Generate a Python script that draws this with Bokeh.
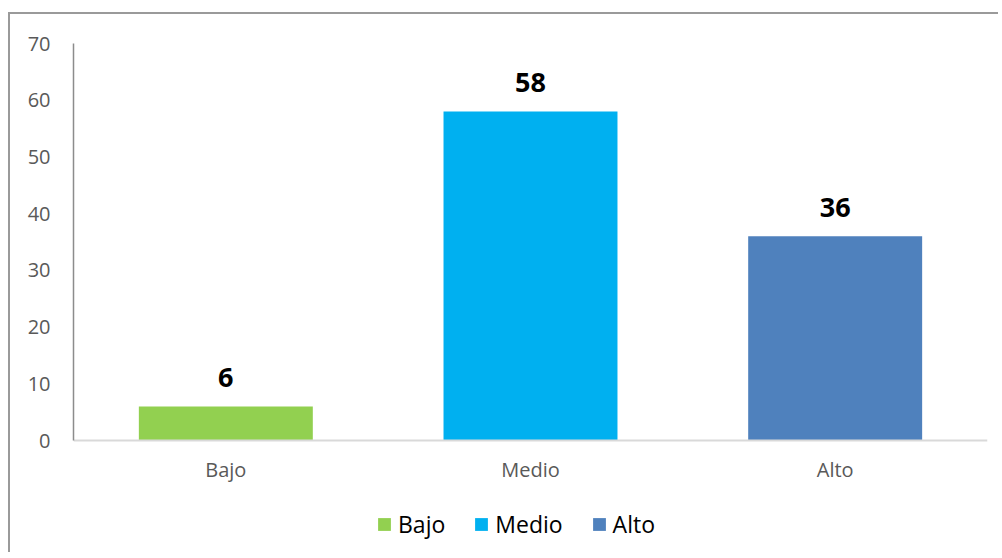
from bokeh.plotting import figure
from bokeh.models import ColumnDataSource, FactorRange, Range1d, FixedTicker, Legend, LegendItem
from bokeh.core.properties import value
from bokeh.embed import file_html
from bokeh.resources import INLINE

categories = ["Bajo", "Medio", "Alto"]
values = [6, 58, 36]
colors = ["#92D050", "#00B0F0", "#4F81BD"]
y_ticks = [0, 10, 20, 30, 40, 50, 60, 70]
y_max = 70

# layout geometry (pixels)
W, H = 990, 540
top_px, bottom_px = 29, 10
axis_px = 397  # pixel height of the 0..70 span
frame_h = H - top_px - bottom_px
y_start = y_max - y_max * frame_h / axis_px

source = ColumnDataSource(dict(
    cat=categories,
    val=values,
    color=colors,
    label=[str(v) for v in values],
))

p = figure(
    width=W, height=H,
    x_range=FactorRange(*categories, range_padding=0),
    y_range=Range1d(y_start, y_max),
    output_backend="svg", toolbar_location=None,
    min_border_left=63, min_border_right=13, min_border_top=top_px, min_border_bottom=bottom_px,
)
p.styles = {"border-left": "2px solid #9a9a9a", "border-top": "2px solid #9a9a9a",
            "margin-top": "12px", "margin-left": "8px"}

p.outline_line_color = None
p.grid.visible = False
p.background_fill_color = "white"
p.border_fill_color = "white"

r = p.vbar(x="cat", top="val", width=0.571, fill_color="color", line_color=None, source=source)

p.text(x="cat", y="val", text="label", source=source,
       text_align="center", text_baseline="alphabetic", y_offset=-29,
       text_font=value("Open Sans"), text_font_style="bold", text_font_size="27px",
       text_color="black")

# axes
xa = p.xaxis[0]
xa.fixed_location = 0
xa.axis_line_color = "#d9d9d9"
xa.axis_line_width = 2
xa.major_tick_line_color = None
xa.minor_tick_line_color = None
xa.major_label_text_font = "Open Sans"
xa.major_label_text_font_size = "20px"
xa.major_label_text_color = "#595959"
xa.major_label_standoff = 9

ya = p.yaxis[0]
ya.ticker = FixedTicker(ticks=y_ticks)
ya.bounds = (0, y_max)
ya.axis_line_color = "#8c8c8c"
ya.axis_line_width = 1.5
ya.major_tick_line_color = None
ya.minor_tick_line_color = None
ya.major_label_text_font = "Open Sans"
ya.major_label_text_font_size = "20px"
ya.major_label_text_color = "#595959"
ya.major_label_standoff = 17

legend = Legend(items=[LegendItem(label={"field": "cat"}, renderers=[r])],
                location=(303, 4), orientation="horizontal",
                glyph_width=16, glyph_height=16, label_standoff=6, spacing=28,
                padding=0, margin=0, border_line_color=None, background_fill_alpha=0,
                label_text_font="Open Sans", label_text_font_size="23px", label_text_color="black")
p.add_layout(legend, "center")

open("out.html", "w").write(file_html(p, INLINE))
